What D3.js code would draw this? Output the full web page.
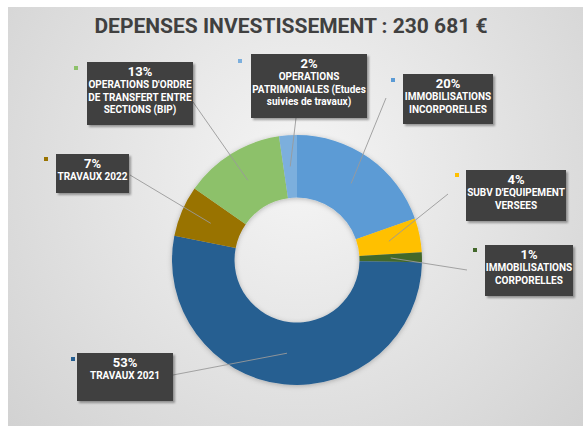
<!DOCTYPE html>
<html>
<head>
<meta charset="utf-8">
<script src="https://cdn.jsdelivr.net/npm/d3@7"></script>
<style>
  body { margin: 0; background: #fff; }
  text { font-family: Roboto, "Liberation Sans", sans-serif; }
</style>
</head>
<body>
<div id="chart"></div>
<script>
// Data (clockwise from 12 o'clock)
const categories = [
    "IMMOBILISATIONS INCORPORELLES",
    "SUBV D'EQUIPEMENT VERSEES",
    "IMMOBILISATIONS CORPORELLES",
    "TRAVAUX 2021",
    "TRAVAUX 2022",
    "OPERATIONS D'ORDRE DE TRANSFERT ENTRE SECTIONS (BIP)",
    "OPERATIONS PATRIMONIALES (Etudes suivies de travaux)"
];
const shares = [19.6, 4.4, 1.3, 52.8, 6.6, 13.0, 2.3];
const labelLines = [
    ["IMMOBILISATIONS", "INCORPORELLES"],
    ["SUBV D'EQUIPEMENT", "VERSEES"],
    ["IMMOBILISATIONS", "CORPORELLES"],
    ["TRAVAUX 2021"],
    ["TRAVAUX 2022"],
    ["OPERATIONS D'ORDRE", "DE TRANSFERT ENTRE", "SECTIONS (BIP)"],
    ["OPERATIONS", "PATRIMONIALES (Etudes", "suivies de travaux)"]
];
const colors = ["#5B9BD5", "#FFC000", "#43682B", "#255E91", "#997300", "#8DC16A", "#7CAFDD"];
const titleText = "DEPENSES INVESTISSEMENT : 230 681 €";

// Label box layout: box, leader anchor, legend key offset
const boxes = [
    {x: 403, y: 74,  w: 90,  h: 50, ax: 386, ay: 98,  mx: -10, my: 6},
    {x: 466, y: 170, w: 100, h: 51, ax: 448, ay: 194, mx: -9,  my: 5},
    {x: 485, y: 245, w: 88,  h: 51, ax: 467, ay: 270, mx: -10, my: 5},
    {x: 77,  y: 353, w: 96,  h: 48, ax: 173, ay: 375, mx: -4,  my: 6},
    {x: 56,  y: 154, w: 73,  h: 39, ax: 130, ay: 175, mx: -10, my: 5},
    {x: 87,  y: 62,  w: 106, h: 63, ax: 193, ay: 102, mx: -11, my: 6},
    {x: 251, y: 54,  w: 116, h: 64, ax: 296, ay: 118, mx: -11, my: 7}
];

const W = 583, H = 426;
const cx = 297, cy = 260, outerR = 125, innerR = 62.5;

const svg = d3.select("#chart")
    .append("svg")
    .attr("width", W)
    .attr("height", H);

const defs = svg.append("defs");
const bg = defs.append("radialGradient")
    .attr("id", "bg")
    .attr("gradientUnits", "userSpaceOnUse")
    .attr("cx", 300).attr("cy", 170).attr("r", 420);
bg.append("stop").attr("offset", "0%").attr("stop-color", "#f5f5f5");
bg.append("stop").attr("offset", "100%").attr("stop-color", "#cfcfcf");

defs.append("filter").attr("id", "boxShadow")
    .attr("x", "-20%").attr("y", "-20%").attr("width", "140%").attr("height", "140%")
    .append("feDropShadow")
    .attr("dx", 2).attr("dy", 2).attr("stdDeviation", 1.2)
    .attr("flood-color", "#000").attr("flood-opacity", 0.35);

defs.append("filter").attr("id", "donutShadow")
    .attr("x", "-20%").attr("y", "-20%").attr("width", "140%").attr("height", "140%")
    .append("feDropShadow")
    .attr("dx", 0).attr("dy", 1).attr("stdDeviation", 2.5)
    .attr("flood-color", "#000").attr("flood-opacity", 0.25);

// Background panel
svg.append("rect")
    .attr("x", 8).attr("y", 7)
    .attr("width", W - 8).attr("height", H - 7)
    .attr("fill", "url(#bg)");

// Title
svg.append("text")
    .attr("x", 291).attr("y", 33)
    .attr("text-anchor", "middle")
    .attr("font-size", 21)
    .attr("font-weight", "bold")
    .attr("fill", "#404040")
    .text(titleText);

// Donut
const pie = d3.pie().sort(null).value(d => d)(shares);
const arc = d3.arc().innerRadius(innerR).outerRadius(outerR);

const g = svg.append("g").attr("transform", `translate(${cx},${cy})`);
g.append("g")
    .attr("filter", "url(#donutShadow)")
    .selectAll("path")
    .data(pie)
    .enter().append("path")
    .attr("d", arc)
    .attr("fill", (d, i) => colors[i]);

const total = d3.sum(shares);

// Leader lines
svg.selectAll(".leader")
    .data(pie)
    .enter().append("line")
    .attr("class", "leader")
    .attr("x1", (d, i) => boxes[i].ax)
    .attr("y1", (d, i) => boxes[i].ay)
    .attr("x2", d => cx + arc.centroid(d)[0])
    .attr("y2", d => cy + arc.centroid(d)[1])
    .attr("stroke", "#9a9a9a")
    .attr("stroke-width", 0.9);

// Label boxes
const labels = svg.selectAll(".lbl")
    .data(pie)
    .enter().append("g")
    .attr("class", "lbl")
    .attr("transform", (d, i) => `translate(${boxes[i].x},${boxes[i].y})`);

labels.append("rect")
    .attr("width", (d, i) => boxes[i].w)
    .attr("height", (d, i) => boxes[i].h)
    .attr("fill", "#404040")
    .attr("filter", "url(#boxShadow)");

labels.append("rect")
    .attr("x", (d, i) => boxes[i].mx - 2)
    .attr("y", (d, i) => boxes[i].my - 2)
    .attr("width", 4).attr("height", 4)
    .attr("fill", (d, i) => colors[i]);

labels.append("text")
    .attr("x", (d, i) => boxes[i].w / 2)
    .attr("y", 13.5)
    .attr("text-anchor", "middle")
    .attr("font-size", 13)
    .attr("font-weight", "bold")
    .attr("fill", "#fff")
    .text(d => Math.round(d.value / total * 100) + "%");

labels.each(function(d, i) {
    d3.select(this).selectAll(".line")
        .data(labelLines[i])
        .enter().append("text")
        .attr("x", boxes[i].w / 2)
        .attr("y", (t, j) => 26 + j * 12.5)
        .attr("text-anchor", "middle")
        .attr("font-size", 10)
        .attr("font-weight", "bold")
        .attr("fill", "#fff")
        .text(t => t);
});
</script>
</body>
</html>
